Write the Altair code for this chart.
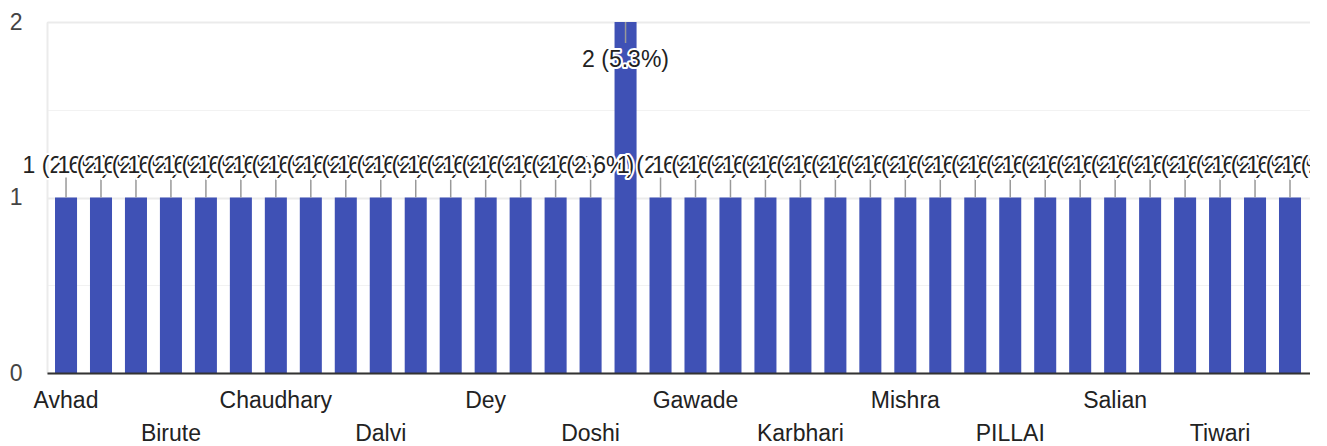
import altair as alt
import pandas as pd

# Categories (every third one is printed on the axis; the others are hidden by label overlap).
# The 37th bar lies just beyond the visible right edge of the chart.
names = [
    "Avhad", "Bhagat", "Bhosale", "Birute", "Bora", "Chandra",
    "Chaudhary", "Chavan", "Choudhari", "Dalvi", "Das", "Desai",
    "Dey", "Dhuri", "Dixit", "Doshi", "Gaikwad", "Gaonkar",
    "Gawade", "Iyer", "Jadhav", "Karbhari", "Kulkarni", "Mehta",
    "Mishra", "More", "Patil", "PILLAI", "Rao", "Sahu",
    "Salian", "Shah", "Shetty", "Tiwari", "Upadhyay", "Vora",
    "Yadav",
]
counts = [
    1, 1, 1, 1, 1, 1,
    1, 1, 1, 1, 1, 1,
    1, 1, 1, 1, 2, 1,
    1, 1, 1, 1, 1, 1,
    1, 1, 1, 1, 1, 1,
    1, 1, 1, 1, 1, 1,
    1,
]
total_responses = 38
y_ticks = [0, 0.5, 1, 1.5, 2]

labels = [f"{c} ({c / total_responses * 100:.1f}%)" for c in counts]
df = pd.DataFrame({"name": names, "count": counts, "label": labels})

# staggered axis labels: every third category, alternating between two rows
row1 = names[0:36:6]
row2 = names[3:36:6]
js1 = "[" + ",".join(f"'{n}'" for n in row1) + "]"
js2 = "[" + ",".join(f"'{n}'" for n in row2) + "]"
x_label_expr = (
    f"indexof({js1}, datum.value) >= 0 ? datum.label : "
    f"(indexof({js2}, datum.value) >= 0 ? ['', datum.label] : '')"
)

FONT = "Liberation Sans"
BAR = "#3f51b5"
maxc = max(counts)

x_enc = alt.X(
    "name:N",
    sort=names,
    scale=alt.Scale(paddingInner=0.37, paddingOuter=0.229),
    axis=alt.Axis(
        title=None, labelExpr=x_label_expr, labelAngle=0, labelOverlap=False,
        ticks=False, tickSize=0, labelPadding=16, labelLineHeight=33,
        labelBaseline="top", labelFontSize=23, labelColor="#222", labelFont=FONT,
        domainColor="#333", domainWidth=2, grid=False, labelLimit=0, zindex=1,
    ),
)
y_enc = alt.Y(
    "count:Q",
    scale=alt.Scale(domain=[0, 2], nice=False, zero=True),
    axis=alt.Axis(
        title=None, values=y_ticks,
        labelExpr="datum.value % 1 == 0 ? format(datum.value, 'd') : ''",
        ticks=False, tickSize=0, labelPadding=25, labelFontSize=23,
        labelColor="#444", labelFont=FONT,
        domainColor="#ebebeb", domainWidth=2,
        gridColor={"condition": {"test": "datum.value % 1 == 0", "value": "#ebebeb"}, "value": "#f2f2f2"},
        gridWidth={"condition": {"test": "datum.value % 1 == 0", "value": 2}, "value": 1},
    ),
)

base = alt.Chart(df)

bars = base.mark_bar(color=BAR).encode(x=x_enc, y=y_enc)

stem_short = base.transform_filter(alt.datum["count"] < maxc).mark_rule(
    color="#999", strokeWidth=1.5, y2Offset=-20
).encode(x=x_enc, y=y_enc, y2=alt.Y2("count:Q"))
stem_tall = base.transform_filter(alt.datum["count"] >= maxc).mark_rule(
    color="#999", strokeWidth=1.5, y2Offset=21
).encode(x=x_enc, y=y_enc, y2=alt.Y2("count:Q"))

layers = [bars, stem_short, stem_tall]
for n, c in zip(names, counts):
    dy = 38 if c >= maxc else -32
    sel = base.transform_filter(alt.datum.name == n)
    halo = sel.mark_text(
        font=FONT, fontSize=23, baseline="middle", align="center", dy=dy,
        fill="white", stroke="white", strokeWidth=4, strokeJoin="round",
    ).encode(x=x_enc, y=y_enc, text="label:N")
    txt = sel.mark_text(
        font=FONT, fontSize=23, baseline="middle", align="center", dy=dy,
        fill="#222",
    ).encode(x=x_enc, y=y_enc, text="label:N")
    layers += [halo, txt]

chart = alt.layer(*layers).properties(
    width=1297,
    height=351,
    autosize=alt.AutoSizeParams(type="none"),
    padding={"left": 39, "top": 14, "right": -34, "bottom": 69},
).configure_view(stroke=None).configure(background="white")

chart.save("out.html", embed_options={"renderer": "svg", "actions": False})
